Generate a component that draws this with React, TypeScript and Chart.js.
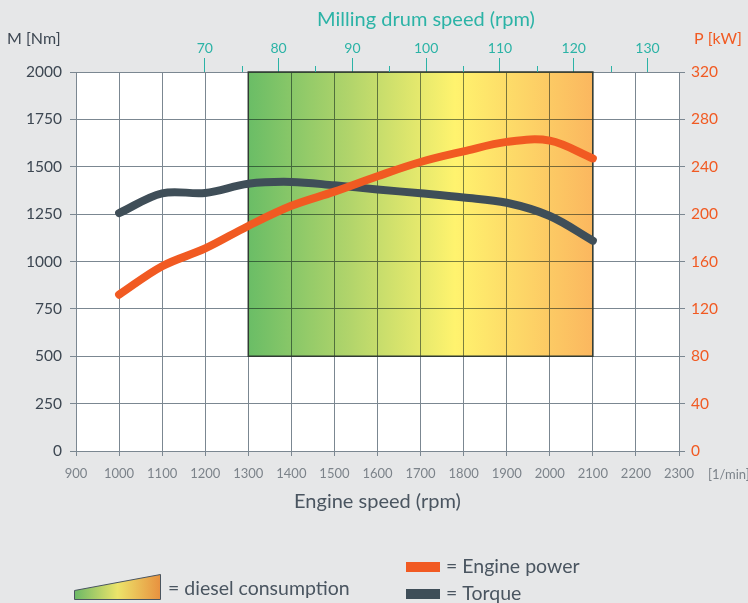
import React, { useEffect, useRef } from 'react';
import { Chart, registerables } from 'chart.js';

Chart.register(...registerables);

// ---- data ----
const engineRpm = [1000, 1100, 1200, 1300, 1400, 1500, 1600, 1700, 1800, 1900, 2000, 2100];
const torqueNm = [1255, 1360, 1362, 1410, 1420, 1402, 1380, 1360, 1338, 1310, 1240, 1110];
const powerKw = [132, 156, 171, 190, 207, 219, 232, 244, 253, 261, 262, 247];
const drumTicks = [70, 75, 80, 85, 90, 95, 100, 105, 110, 115, 120, 125, 130];
const drumRatio = 17.13; // engine rpm per drum rpm
const bandRpm = [1300, 2100];
const bandTorque = [500, 2000];
const engineRange = [900, 2300];
const torqueRange = [0, 2000];
const powerRange = [0, 320];

const FONT = 'Lato';
const BG = '#e6e7e8';
const GRID = '#7b8791';
const TEAL = '#2bb3a6';
const ORANGE = '#f15a22';
const DARK = '#3f4e58';
const TXT = '#3d4752';
const TXT2 = '#7c838a';

const plain = (v: any) => String(v);

const decorPlugin = {
  id: 'decor',
  beforeDraw(chart: any) {
    const { ctx, chartArea: a } = chart;
    ctx.save();
    ctx.fillStyle = BG;
    ctx.fillRect(0, 0, chart.width, chart.height);
    ctx.fillStyle = '#ffffff';
    ctx.fillRect(a.left, a.top, a.right - a.left, a.bottom - a.top);
    ctx.restore();
  },
  beforeDatasetsDraw(chart: any) {
    const { ctx } = chart;
    const xs = chart.scales.x;
    const ys = chart.scales.y;
    const x0 = xs.getPixelForValue(bandRpm[0]);
    const x1 = xs.getPixelForValue(bandRpm[1]);
    const y0 = ys.getPixelForValue(bandTorque[1]);
    const y1 = ys.getPixelForValue(bandTorque[0]);
    const g = ctx.createLinearGradient(x0, 0, x1, 0);
    g.addColorStop(0, '#6abd66');
    g.addColorStop(0.3, '#b3d56b');
    g.addColorStop(0.6, '#fff36e');
    g.addColorStop(0.8, '#fdd567');
    g.addColorStop(1, '#fbb75f');
    ctx.save();
    ctx.globalCompositeOperation = 'multiply';
    ctx.fillStyle = g;
    ctx.fillRect(x0, y0, x1 - x0, y1 - y0);
    ctx.globalCompositeOperation = 'source-over';
    ctx.strokeStyle = '#2f3a33';
    ctx.lineWidth = 1.5;
    ctx.strokeRect(x0, y0, x1 - x0, y1 - y0);
    ctx.restore();
  },
  afterDraw(chart: any) {
    const { ctx, chartArea: a } = chart;
    const x2 = chart.scales.x2;
    ctx.save();
    // minor drum ticks
    ctx.strokeStyle = TEAL;
    ctx.lineWidth = 1;
    drumTicks.forEach((v) => {
      if (v % 10 !== 0) {
        const px = Math.round(x2.getPixelForValue(v)) + 0.5;
        ctx.beginPath();
        ctx.moveTo(px, a.top - 6);
        ctx.lineTo(px, a.top);
        ctx.stroke();
      }
    });
    ctx.textBaseline = 'middle';
    // top title
    ctx.fillStyle = TEAL;
    ctx.font = `20px ${FONT}`;
    ctx.textAlign = 'center';
    ctx.fillText('Milling drum speed (rpm)', 426, 20);
    // axis unit labels
    ctx.textAlign = 'left';
    ctx.fillStyle = TXT;
    ctx.font = `16px ${FONT}`;
    ctx.fillText('M [Nm]', 7, 39);
    ctx.fillStyle = ORANGE;
    ctx.font = `16px ${FONT}`;
    ctx.fillText('P [kW]', 694, 39);
    ctx.fillStyle = TXT2;
    ctx.font = `13px ${FONT}`;
    ctx.fillText('[1/min]', 708, 475);

    // legend: diesel consumption wedge
    const wg = ctx.createLinearGradient(74, 0, 161, 0);
    wg.addColorStop(0, '#6ab866');
    wg.addColorStop(0.5, '#ece46a');
    wg.addColorStop(1, '#e8903f');
    ctx.beginPath();
    ctx.moveTo(74.5, 599.5);
    ctx.lineTo(160.5, 599.5);
    ctx.lineTo(160.5, 574.5);
    ctx.lineTo(74.5, 590.5);
    ctx.closePath();
    ctx.fillStyle = wg;
    ctx.fill();
    ctx.strokeStyle = '#4a5560';
    ctx.lineWidth = 1;
    ctx.stroke();
    ctx.fillStyle = '#4a5560';
    ctx.font = `19.5px ${FONT}`;
    ctx.fillText('= diesel consumption', 168, 589);
    // power / torque swatches
    ctx.fillStyle = ORANGE;
    ctx.fillRect(406, 562, 34, 10);
    ctx.fillStyle = DARK;
    ctx.fillRect(406, 589, 34, 10);
    ctx.fillStyle = '#4a5560';
    ctx.fillText('= Engine power', 446, 567);
    ctx.fillText('= Torque', 446, 594);
    ctx.restore();
  },
};

export default function App() {
  const ref = useRef<HTMLCanvasElement>(null);
  useEffect(() => {
    if (!ref.current) return;
    const chart = new Chart(ref.current, {
      type: 'line',
      data: {
        datasets: [
          {
            label: 'Engine power',
            data: engineRpm.map((x, i) => ({ x, y: powerKw[i] })),
            yAxisID: 'y2',
            xAxisID: 'x',
            borderColor: ORANGE,
            borderWidth: 8,
            pointRadius: 0,
            tension: 0.35,
            borderCapStyle: 'round',
            borderJoinStyle: 'round',
          },
          {
            label: 'Torque',
            data: engineRpm.map((x, i) => ({ x, y: torqueNm[i] })),
            yAxisID: 'y',
            xAxisID: 'x',
            borderColor: DARK,
            borderWidth: 8,
            pointRadius: 0,
            tension: 0.35,
            borderCapStyle: 'round',
            borderJoinStyle: 'round',
          },
        ],
      },
      options: {
        responsive: false,
        animation: false,
        layout: { padding: 0 },
        plugins: { legend: { display: false }, tooltip: { enabled: false } },
        scales: {
          x: {
            type: 'linear',
            position: 'bottom',
            min: engineRange[0],
            max: engineRange[1],
            afterFit: (s: any) => { s.height = 152; },
            ticks: { stepSize: 100, color: TXT2, font: { family: FONT, size: 13 }, padding: 10, maxRotation: 0, autoSkip: false, callback: plain },
            grid: { color: GRID, tickLength: 5, tickColor: GRID },
            border: { color: GRID },
            title: { display: true, text: 'Engine speed (rpm)', color: '#4a5560', font: { family: FONT, size: 20 }, padding: { top: 0, bottom: 89 } },
          },
          x2: {
            type: 'linear',
            position: 'top',
            min: engineRange[0] / drumRatio,
            max: engineRange[1] / drumRatio,
            afterFit: (s: any) => { s.height = 72; },
            afterBuildTicks: (s: any) => { s.ticks = drumTicks.map((value) => ({ value })); },
            ticks: {
              color: TEAL,
              font: { family: FONT, size: 14 },
              padding: 1,
              maxRotation: 0,
              autoSkip: false,
              callback: (v: any) => (Number(v) % 10 === 0 ? String(v) : ''),
            },
            grid: {
              drawOnChartArea: false,
              tickLength: 14,
              tickColor: (c: any) => (c.tick && c.tick.value % 10 === 0 ? TEAL : 'rgba(0,0,0,0)'),
            },
            border: { color: GRID },
          },
          y: {
            type: 'linear',
            position: 'left',
            min: torqueRange[0],
            max: torqueRange[1],
            afterFit: (s: any) => { s.width = 76; },
            ticks: { stepSize: 250, color: TXT, font: { family: FONT, size: 15.5 }, padding: 8, callback: plain },
            grid: { color: GRID, tickLength: 6, tickColor: GRID },
            border: { color: GRID },
          },
          y2: {
            type: 'linear',
            position: 'right',
            min: powerRange[0],
            max: powerRange[1],
            afterFit: (s: any) => { s.width = 69; },
            ticks: { stepSize: 40, color: ORANGE, font: { family: FONT, size: 15.5 }, padding: 6, callback: plain },
            grid: { drawOnChartArea: false, tickLength: 6, tickColor: GRID },
            border: { color: GRID },
          },
        },
      },
      plugins: [decorPlugin],
    } as any);
    return () => chart.destroy();
  }, []);
  return (
    <div style={{ position: 'fixed', left: 0, top: 0, width: 748, height: 603, background: BG }}>
      <canvas ref={ref} width={748} height={603} style={{ display: 'block' }} />
    </div>
  );
}
